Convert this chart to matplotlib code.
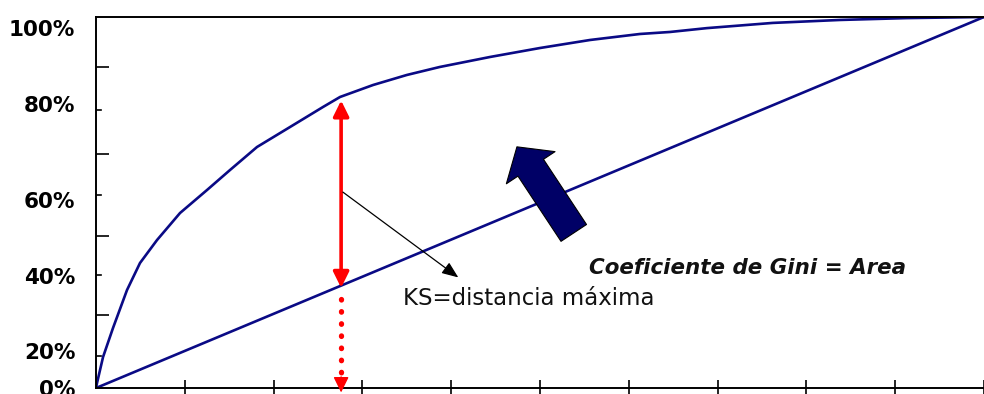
import matplotlib.pyplot as plt

plt.rcParams['font.family'] = ['DejaVu Sans']

# cumulative share of population (x) vs cumulative share captured (y)
pop_share = [0.0, 0.0011, 0.0079, 0.0191, 0.0349, 0.0495, 0.0687, 0.0946, 0.125,
             0.1509, 0.1813, 0.2185, 0.2556, 0.2748, 0.312, 0.350, 0.387, 0.4437,
             0.500, 0.5563, 0.6126, 0.6464, 0.688, 0.762, 0.838, 0.913, 1.0]
model_curve = [0.0, 0.0135, 0.0836, 0.1617, 0.2642, 0.3369, 0.3989, 0.4717, 0.5337,
               0.5876, 0.6496, 0.7035, 0.7574, 0.7844, 0.8167, 0.8437, 0.8652, 0.8922,
               0.9164, 0.938, 0.9542, 0.9596, 0.970, 0.984, 0.992, 0.997, 1.0]
random_x = [0.0, 1.0]
random_curve = [0.0, 1.0]

# where the KS distance is taken
ks_x = 0.276
ks_top = 0.775
ks_bottom = 0.27

# y tick labels sit a bit off the tick marks in the original
ylabel_pos = [0.0, 0.10, 0.302, 0.507, 0.765, 0.970]
ylabel_txt = ['0%', '20%', '40%', '60%', '80%', '100%']
ytick_long = [0.197, 0.410, 0.631, 0.865]
ytick_short = [0.086, 0.305, 0.520, 0.748]
xticks = [0.1, 0.2, 0.3, 0.4, 0.5, 0.6, 0.7, 0.8, 0.9, 1.0]

navy = '#0a0a85'

fig = plt.figure(figsize=(9.84, 3.94), dpi=100)
ax = fig.add_axes([0.0976, 0.0152, 0.9024, 0.9417])

ax.plot(pop_share, model_curve, color=navy, lw=1.9, solid_joinstyle='round')
ax.plot(random_x, random_curve, color=navy, lw=1.9)

# solid KS arrow between the two curves
ax.annotate('', xy=(ks_x, ks_top), xytext=(ks_x, ks_bottom),
            arrowprops=dict(arrowstyle='<|-|>,head_length=0.95,head_width=0.47',
                            color='#ff0000', lw=2.6, shrinkA=0, shrinkB=0))
# dotted continuation down to the x axis
ax.plot([ks_x, ks_x], [ks_bottom - 0.03, 0.035], color='#ff0000', lw=3.8,
        linestyle=(0, (0.1, 2.2)), dash_capstyle='round')
ax.annotate('', xy=(ks_x, -0.012), xytext=(ks_x, 0.03),
            arrowprops=dict(arrowstyle='-|>,head_length=0.95,head_width=0.47',
                            color='#ff0000', lw=1, shrinkA=0, shrinkB=0),
            annotation_clip=False)

# thin black pointer to the KS label
ax.annotate('', xy=(0.408, 0.298), xytext=(0.278, 0.528),
            arrowprops=dict(arrowstyle='-|>,head_length=1.0,head_width=0.4',
                            color='black', lw=0.9, shrinkA=0, shrinkB=0))
ax.text(0.346, 0.242, 'KS=distancia máxima', fontsize=16.5, color='#111111',
        va='center', ha='left')

# big navy arrow pointing to the area
ax.annotate('', xy=(0.474, 0.650), xytext=(0.538, 0.418),
            arrowprops=dict(arrowstyle='simple,head_length=1.8,head_width=4.2,tail_width=2.2',
                            fc='#000066', ec='black', lw=0.8, shrinkA=0, shrinkB=0,
                            mutation_scale=10))
ax.text(0.555, 0.323, 'Coeficiente de Gini = Area', fontsize=15.4, fontweight='bold',
        fontstyle='italic', color='#111111', va='center', ha='left')

ax.set_xlim(0, 1)
ax.set_ylim(0, 1)

ax.set_yticks(ylabel_pos)
ax.set_yticklabels(ylabel_txt, fontsize=15.5, fontweight='bold')
ax.tick_params(axis='y', which='major', length=0, pad=15)
ax.set_yticks(ytick_long, minor=True)
ax.tick_params(axis='y', which='minor', direction='in', length=9.5, width=1.2)
for y in ytick_short:
    ax.axhline(y, xmin=0, xmax=0.006, color='black', lw=1.2)

ax.set_xticks(xticks)
ax.set_xticklabels([])
ax.tick_params(axis='x', which='major', direction='inout', length=11, width=1.2)

for s in ['left', 'bottom', 'top']:
    ax.spines[s].set_linewidth(1.4)
ax.spines['right'].set_visible(False)

fig.savefig('out.png', dpi=100)
